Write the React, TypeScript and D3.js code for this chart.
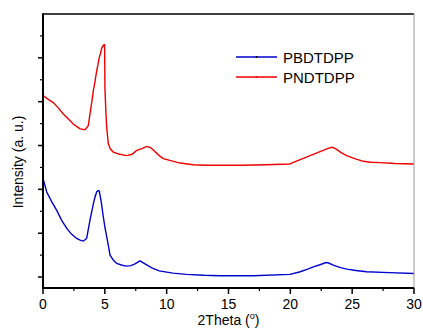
import React from "react";
import * as d3 from "d3";

// XRD patterns, 2theta (deg) vs intensity (a.u., offset)
const pndTheta = [0, 0.4, 0.83, 1.2, 1.64, 2.0, 2.45, 2.8, 3.0, 3.4, 3.66, 3.8, 3.95, 4.07, 4.2, 4.34, 4.45, 4.55, 4.65, 4.75, 4.85, 4.93, 4.98, 5.01, 5.08, 5.15, 5.28, 5.45, 5.68, 6.2, 6.77, 7.2, 7.58, 8.0, 8.39, 8.7, 8.92, 9.4, 9.73, 10.4, 11.08, 12.15, 13.2, 14.3, 16, 18, 19.97, 20.1, 20.8, 21.6, 22.2, 22.66, 23.0, 23.34, 23.5, 23.75, 24.1, 24.56, 25.2, 25.9, 26.5, 27.25, 28.5, 30];
const pndIntensity = [4.14, 4.06, 3.98, 3.87, 3.72, 3.62, 3.49, 3.42, 3.38, 3.36, 3.45, 3.72, 4.0, 4.25, 4.45, 4.7, 4.85, 5.01, 5.1, 5.23, 5.27, 5.3, 5.3, 4.29, 3.8, 3.42, 3.04, 2.92, 2.85, 2.8, 2.77, 2.8, 2.89, 2.93, 2.98, 2.95, 2.9, 2.77, 2.7, 2.65, 2.6, 2.56, 2.55, 2.55, 2.55, 2.56, 2.58, 2.6, 2.68, 2.77, 2.84, 2.89, 2.93, 2.96, 2.95, 2.91, 2.84, 2.77, 2.7, 2.64, 2.62, 2.61, 2.59, 2.58];

const pbdTheta = [0, 0.08, 0.3, 0.7, 1.11, 1.5, 1.92, 2.3, 2.72, 3.0, 3.26, 3.53, 3.8, 4.07, 4.2, 4.34, 4.45, 4.55, 4.69, 4.88, 5.0, 5.15, 5.3, 5.42, 5.7, 5.96, 6.4, 6.77, 7.1, 7.44, 7.84, 8.25, 8.8, 9.4, 10.5, 11.6, 13, 14.3, 17, 19.97, 20.8, 21.4, 21.86, 22.4, 22.88, 23.1, 23.47, 24.0, 24.56, 25.3, 26.17, 28, 30];
const pbdIntensity = [2.1, 2.17, 1.94, 1.72, 1.52, 1.3, 1.11, 0.98, 0.88, 0.84, 0.82, 0.88, 1.3, 1.67, 1.82, 1.94, 1.97, 1.96, 1.75, 1.37, 1.15, 0.92, 0.7, 0.5, 0.38, 0.31, 0.27, 0.25, 0.26, 0.3, 0.37, 0.3, 0.21, 0.14, 0.09, 0.06, 0.04, 0.03, 0.03, 0.06, 0.12, 0.18, 0.23, 0.28, 0.33, 0.32, 0.27, 0.22, 0.18, 0.15, 0.12, 0.1, 0.08];

const xTicks = [0, 5, 10, 15, 20, 25, 30];
const xMinorTicks = [2.5, 7.5, 12.5, 17.5, 22.5, 27.5];
const yTicks = [0, 1, 2, 3, 4, 5];
const yMinorTicks = [0.5, 1.5, 2.5, 3.5, 4.5, 5.5];

const seriesNames = ["PBDTDPP", "PNDTDPP"];

const W = 423;
const H = 333;
const m = { left: 43, top: 14, right: 9, bottom: 45 };
const FONT = "Arial, 'Liberation Sans', sans-serif";

export default function App() {
  const x = d3.scaleLinear().domain([0, 30]).range([m.left, W - m.right]);
  const y = d3.scaleLinear().domain([-0.25, 6]).range([H - m.bottom, m.top]);

  const line = d3
    .line<[number, number]>()
    .x((d) => x(d[0]))
    .y((d) => y(d[1]));

  const red = line(pndTheta.map((t, i) => [t, pndIntensity[i]]) as [number, number][]);
  const blue = line(pbdTheta.map((t, i) => [t, pbdIntensity[i]]) as [number, number][]);

  const x0 = x(0), x1 = x(30), yTop = m.top, yBot = H - m.bottom;

  return (
    <svg width={W} height={H} style={{ position: "absolute", left: 0, top: 0, background: "#fff" }} fontFamily={FONT}>
      <path d={blue ?? ""} fill="none" stroke="#0000cc" strokeWidth={1.4} />
      <path d={red ?? ""} fill="none" stroke="#ee0000" strokeWidth={1.4} />

      {/* frame */}
      <line x1={x0} x2={x1} y1={yTop} y2={yTop} stroke="#000" strokeWidth={1.5} />
      <line x1={x1} x2={x1} y1={yTop} y2={yBot} stroke="#999" strokeWidth={1} />
      <line x1={x0} x2={x0} y1={yTop - 0.75} y2={yBot + 1} stroke="#000" strokeWidth={2} />
      <line x1={x0 - 1} x2={x1} y1={yBot} y2={yBot} stroke="#000" strokeWidth={2} />

      {/* x ticks */}
      {xTicks.map((t) => (
        <g key={"xt" + t}>
          <line x1={x(t)} x2={x(t)} y1={yBot} y2={yBot + 6} stroke="#000" strokeWidth={1.5} />
          <text x={x(t)} y={yBot + 21} fontSize={14} textAnchor="middle">{t}</text>
        </g>
      ))}
      {xMinorTicks.map((t) => (
        <line key={"xm" + t} x1={x(t)} x2={x(t)} y1={yBot} y2={yBot + 3} stroke="#000" strokeWidth={1.2} />
      ))}

      {/* y ticks, no labels */}
      {yTicks.map((t) => (
        <line key={"yt" + t} x1={x0 - 5} x2={x0} y1={y(t)} y2={y(t)} stroke="#000" strokeWidth={1.5} />
      ))}
      {yMinorTicks.map((t) => (
        <line key={"ym" + t} x1={x0 - 3} x2={x0} y1={y(t)} y2={y(t)} stroke="#000" strokeWidth={1.2} />
      ))}

      {/* axis titles */}
      <text x={(x0 + x1) / 2} y={325} fontSize={14} textAnchor="middle">
        2Theta (<tspan fontSize={9} dy={-6}>o</tspan><tspan dy={6}>)</tspan>
      </text>
      <text transform={`translate(23, 162) rotate(-90)`} fontSize={14} textAnchor="middle">
        Intensity (a. u.)
      </text>

      {/* legend */}
      {seriesNames.map((name, i) => {
        const ly = 57 + i * 20;
        const color = i === 0 ? "#0000cc" : "#ee0000";
        return (
          <g key={name}>
            <line x1={236} x2={277} y1={ly} y2={ly} stroke={color} strokeWidth={1.4} />
            <circle cx={256.5} cy={ly} r={1} fill={i === 0 ? "#000" : color} />
            <text x={283} y={ly + 6} fontSize={15}>{name}</text>
          </g>
        );
      })}
    </svg>
  );
}
